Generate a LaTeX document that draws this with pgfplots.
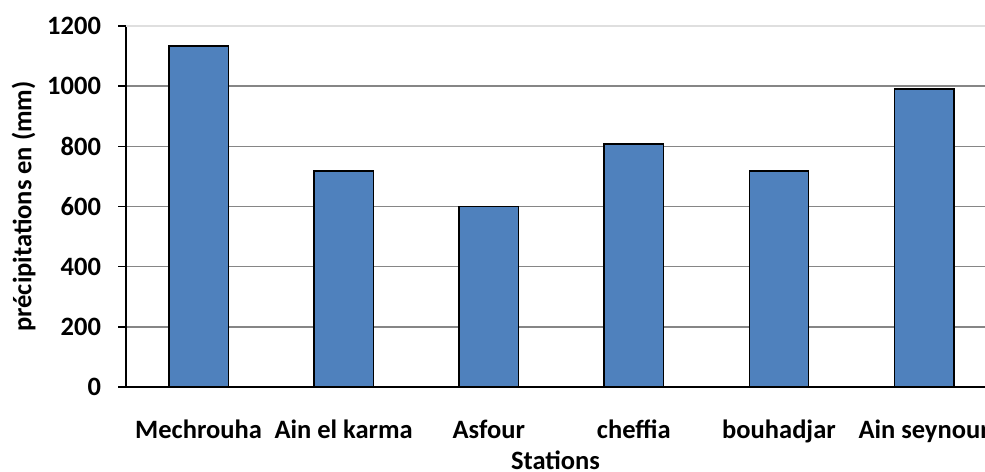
\documentclass[border=0pt]{standalone}
\usepackage{pgfplots}
\pgfplotsset{compat=1.18}
\usepackage{fontspec}
\setmainfont{Carlito}
\definecolor{barblue}{HTML}{4F81BD}
\definecolor{gridgray}{HTML}{868686}
\begin{document}
\fontsize{13}{15}\selectfont\bfseries
\begin{tikzpicture}
\begin{axis}[
    scale only axis,
    width=429.5bp, height=180.5bp,
    ybar, bar width=0.41,
    xmin=-0.5, xmax=5.42,
    ymin=0, ymax=1200,
    xtick={0,...,5},
    xticklabels={Mechrouha, Ain el karma, Asfour, cheffia, bouhadjar, Ain seynour},
    major x tick style={draw=none},
    extra x ticks={-0.5,0.5,1.5,2.5,3.5,4.5},
    extra x tick labels={},
    extra x tick style={major tick length=4bp, tick style={black, line width=0.7bp}},
    ytick={0,200,...,1000},
    extra y ticks={1200},
    extra y tick style={grid style={color=gray!25, line width=0.7bp}},
    tick align=outside,
    major tick length=4bp,
    tick style={black, line width=0.7bp},
    ymajorgrids,
    grid style={gridgray, line width=0.7bp},
    axis x line*=bottom, axis y line*=left,
    axis line style={black, line width=0.8bp, -},
    /pgf/number format/1000 sep={},
    /pgf/number format/assume math mode=true,
    tick label style={font=\fontsize{13.3}{15}\selectfont\bfseries},
    xticklabel style={yshift=-8bp},
    yticklabel style={xshift=-4bp},
    xlabel={Stations},
    ylabel={précipitations en (mm)},
    label style={font=\fontsize{13.3}{15}\selectfont\bfseries},
    xlabel style={yshift=13bp},
    ylabel style={yshift=-11bp},
    clip=false,
]
\addplot[fill=barblue, draw=black, line width=0.7bp]
    coordinates {(0,1134) (1,718) (2,600) (3,808) (4,718) (5,990)};
\end{axis}
\pgfresetboundingbox
\path (current axis.south west) ++(-63bp,-42.5bp) rectangle ([yshift=13bp]current axis.north east);
\end{tikzpicture}
\end{document}
